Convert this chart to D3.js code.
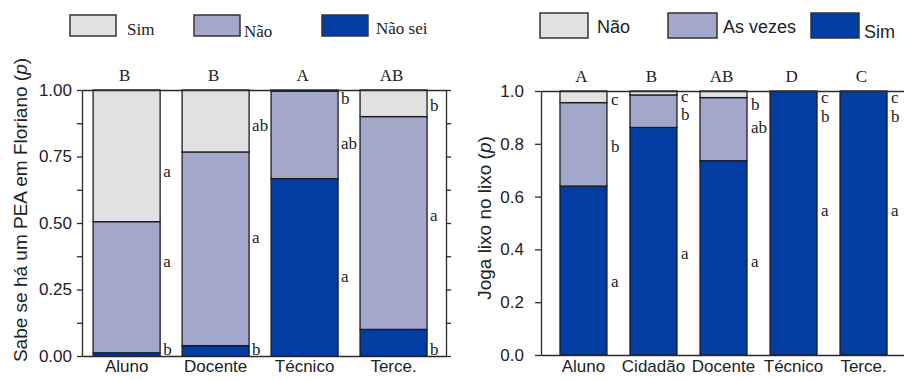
<!DOCTYPE html>
<html>
<head>
<meta charset="utf-8">
<script src="https://cdn.jsdelivr.net/npm/d3@7/dist/d3.min.js"></script>
<style>
  html, body { margin: 0; padding: 0; background: #fff; }
  svg { display: block; }
  .serif { font-family: "Liberation Serif", "Times New Roman", serif; }
  .sans { font-family: "Liberation Sans", Arial, sans-serif; }
</style>
</head>
<body>
<svg id="chart" width="904" height="380"></svg>
<script>
// ---- Panel 1: "Sabe se há um PEA em Floriano" ----
const pkCategories = ["Aluno", "Docente", "Técnico", "Terce."];
const pkNaoSei = [0.012, 0.039, 0.667, 0.100];
const pkNao    = [0.493, 0.728, 0.328, 0.800];
const pkSim    = [0.495, 0.233, 0.005, 0.100];
const pkGroups = ["B", "B", "A", "AB"];
// letters listed top segment first (Sim, Não, Não sei)
const pkLetters = [["a", "a", "b"], ["ab", "a", "b"], ["b", "ab", "a"], ["b", "a", "b"]];
const pkLetterAt = [[0.692, 0.355, 0.026], [0.868, 0.444, 0.026], [0.966, 0.800, 0.297], [0.940, 0.527, 0.026]];
const pkTicks = [0, 0.25, 0.5, 0.75, 1];

// ---- Panel 2: "Joga lixo no lixo" ----
const jlCategories = ["Aluno", "Cidadão", "Docente", "Técnico", "Terce."];
const jlSim     = [0.640, 0.862, 0.736, 1.000, 1.000];
const jlAsVezes = [0.316, 0.123, 0.239, 0.000, 0.000];
const jlNao     = [0.044, 0.015, 0.025, 0.000, 0.000];
const jlGroups  = ["A", "B", "AB", "D", "C"];
// letters listed top segment first (Não, As vezes, Sim)
const jlLetters = [["c", "b", "a"], ["c", "b", "a"], ["b", "ab", "a"], ["c", "b", "a"], ["c", "b", "a"]];
const jlLetterAt = [[0.966, 0.789, 0.280], [0.978, 0.909, 0.386], [0.947, 0.860, 0.353], [0.975, 0.905, 0.547], [0.975, 0.905, 0.547]];
const jlTicks = [0, 0.2, 0.4, 0.6, 0.8, 1.0];

const cLight = "#e1e1e1", cMid = "#a3a7c9", cDark = "#023da3";
const edge = "#1c1c24", axisCol = "#2a2a2a";

const svg = d3.select("#chart");

function drawPanel(opt) {
  const g = svg.append("g");
  const x = d3.scaleBand().domain(opt.cats).range([opt.x0, opt.x1])
    .paddingInner(opt.padIn).paddingOuter(opt.padOut).align(opt.align);
  const y = d3.scaleLinear().domain([0, 1]).range([opt.yBottom, opt.yTop]);

  // stacked bars
  const rows = opt.cats.map((c, i) => {
    const r = { cat: c };
    opt.keys.forEach((k, j) => r[k] = opt.series[j][i]);
    return r;
  });
  const stack = d3.stack().keys(opt.keys)(rows);
  stack.forEach((layer, j) => {
    g.append("g").selectAll("rect")
      .data(layer.filter(d => d[1] - d[0] > 0))
      .join("rect")
      .attr("x", d => x(d.data.cat))
      .attr("width", x.bandwidth())
      .attr("y", d => y(d[1]))
      .attr("height", d => y(d[0]) - y(d[1]))
      .attr("fill", opt.colors[j])
      .attr("stroke", edge)
      .attr("stroke-width", 1.3);
  });

  // axes
  const styleAxis = sel => {
    sel.selectAll("path, line").attr("stroke", axisCol).attr("stroke-width", 1.3);
    sel.selectAll("text").attr("fill", "#222");
  };
  const left = g.append("g").attr("transform", `translate(${opt.x0},0)`)
    .call(d3.axisLeft(y).tickValues(opt.leftTicks)
      .tickFormat(d => opt.tickLabels.includes(d) ? opt.fmt(d) : "")
      .tickSize(opt.tickLen).tickPadding(opt.tickPad).tickSizeOuter(0));
  left.selectAll("text").attr("class", "sans").style("font-size", "17px");
  styleAxis(left);

  const right = g.append("g").attr("transform", `translate(${opt.x1},0)`)
    .call(d3.axisRight(y).tickValues(opt.rightTicks).tickFormat("").tickSize(5).tickSizeOuter(0));
  styleAxis(right);

  const top = g.append("g").attr("transform", `translate(0,${opt.yTop})`)
    .call(d3.axisTop(x).tickSize(0).tickFormat(""));
  styleAxis(top);

  const bottom = g.append("g").attr("transform", `translate(0,${opt.yBottom})`)
    .call(d3.axisBottom(x).tickSize(0).tickPadding(opt.catPad).tickSizeOuter(0));
  bottom.selectAll("text").attr("class", "sans").style("font-size", "17px");
  styleAxis(bottom);

  // group letters above bars
  g.append("g").selectAll("text").data(opt.groups).join("text")
    .attr("class", "serif")
    .attr("x", (d, i) => x(opt.cats[i]) + x.bandwidth() / 2 - 2)
    .attr("y", opt.groupY)
    .attr("text-anchor", "middle")
    .style("font-size", "17px")
    .attr("fill", "#222")
    .text(d => d);

  // segment letters beside bars
  opt.cats.forEach((c, i) => {
    opt.letters[i].forEach((t, j) => {
      g.append("text").attr("class", "serif")
        .attr("x", x(c) + x.bandwidth() + opt.letterGap)
        .attr("y", y(opt.letterAt[i][j]))
        .attr("dy", "0.32em")
        .style("font-size", "17px")
        .attr("fill", "#222")
        .text(t);
    });
  });

  // y title
  const tt = g.append("text").attr("class", "sans")
    .attr("transform", `translate(${opt.titleX},${opt.titleY}) rotate(-90)`)
    .attr("text-anchor", "middle")
    .style("font-size", opt.titleSize)
    .attr("fill", "#222");
  tt.append("tspan").text(opt.title + " (");
  tt.append("tspan").style("font-style", "italic").text("p");
  tt.append("tspan").text(")");
  return g;
}

drawPanel({
  cats: pkCategories, keys: ["naoSei", "nao", "sim"],
  series: [pkNaoSei, pkNao, pkSim], colors: [cDark, cMid, cLight],
  x0: 82, x1: 446, padIn: 0.247, padOut: 0.169, align: 0.37,
  yBottom: 356, yTop: 90,
  leftTicks: d3.range(0, 1.0001, 0.125), rightTicks: d3.range(0, 1.0001, 0.125),
  tickLabels: pkTicks, fmt: d3.format(".2f"), tickLen: 5, tickPad: 5,
  catPad: 4, groups: pkGroups, groupY: 81,
  letters: pkLetters, letterAt: pkLetterAt, letterGap: 3,
  title: "Sabe se há um PEA em Floriano", titleX: 27, titleY: 210, titleSize: "19px"
});

drawPanel({
  cats: jlCategories, keys: ["sim", "asVezes", "nao"],
  series: [jlSim, jlAsVezes, jlNao], colors: [cDark, cMid, cLight],
  x0: 541, x1: 906, padIn: 0.329, padOut: 0.271, align: 0.5,
  yBottom: 355, yTop: 91,
  leftTicks: jlTicks, rightTicks: jlTicks,
  tickLabels: jlTicks, fmt: d3.format(".1f"), tickLen: 6, tickPad: 11,
  catPad: 5, groups: jlGroups, groupY: 82,
  letters: jlLetters, letterAt: jlLetterAt, letterGap: 4,
  title: "Joga lixo no lixo", titleX: 491, titleY: 218, titleSize: "19px"
});

// ---- legends ----
function legend(items, fontClass, size) {
  const lg = svg.append("g");
  items.forEach(it => {
    lg.append("rect").attr("x", it.bx).attr("y", it.by).attr("width", it.bw).attr("height", it.bh)
      .attr("fill", it.color).attr("stroke", "#333").attr("stroke-width", 1.5);
    lg.append("text").attr("class", fontClass).attr("x", it.tx).attr("y", it.ty)
      .style("font-size", size).attr("fill", "#222").text(it.label);
  });
}
const pkLegendLabels = ["Sim", "Não", "Não sei"];
const jlLegendLabels = ["Não", "As vezes", "Sim"];
legend([
  { label: pkLegendLabels[0], color: cLight, bx: 70, by: 15, bw: 46, bh: 21, tx: 127, ty: 35 },
  { label: pkLegendLabels[1], color: cMid, bx: 194, by: 15, bw: 46, bh: 21, tx: 244, ty: 37 },
  { label: pkLegendLabels[2], color: cDark, bx: 322, by: 15, bw: 46, bh: 21, tx: 376, ty: 34 }
], "serif", "17px");
legend([
  { label: jlLegendLabels[0], color: cLight, bx: 540, by: 13, bw: 48, bh: 25, tx: 597, ty: 33 },
  { label: jlLegendLabels[1], color: cMid, bx: 668, by: 13, bw: 49, bh: 25, tx: 723, ty: 33 },
  { label: jlLegendLabels[2], color: cDark, bx: 811, by: 13, bw: 48, bh: 25, tx: 864, ty: 38 }
], "sans", "18px");
</script>
</body>
</html>
